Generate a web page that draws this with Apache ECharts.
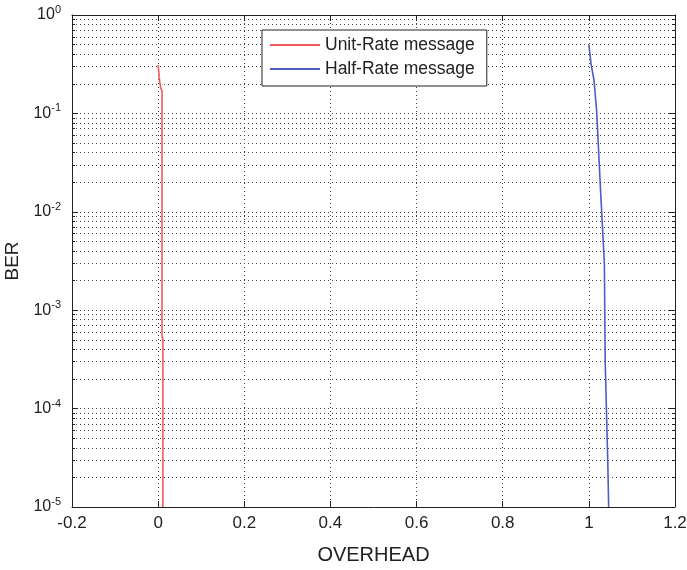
<!DOCTYPE html>
<html><head><meta charset="utf-8">
<script src="https://cdn.jsdelivr.net/npm/echarts@6/dist/echarts.min.js"></script>
<style>html,body{margin:0;padding:0;background:#fff}#c{width:687px;height:570px}</style>
</head><body><div id="c"></div>
<script>
const unitRateX = [0, 0.003, 0.006, 0.009, 0.009, 0.011, 0.011];
const unitRateY = [0.31, 0.22, 0.18, 0.17, 5.4e-4, 5.0e-4, 1e-5];
const halfRateX = [1.0, 1.005, 1.012, 1.018, 1.028, 1.036, 1.038, 1.044, 1.046];
const halfRateY = [0.5, 0.32, 0.216, 0.107, 0.014, 0.003, 2.9e-4, 2.8e-5, 1e-5];
const xTicks = [-0.2, 0, 0.2, 0.4, 0.6, 0.8, 1, 1.2];
const seriesNames = ['Unit-Rate message', 'Half-Rate message'];

const font = 'Liberation Sans, Arial, sans-serif';
const dotted = {show: true, lineStyle: {color: '#444', type: [1, 3], width: 1}};
const chart = echarts.init(document.getElementById('c'));
const pairs = (xs, ys) => xs.map((x, i) => [x, ys[i]]);
const sup = v => {
  const e = Math.round(Math.log10(v));
  return '{b|10}{s|' + e + '}';
};
chart.setOption({
  animation: false,
  grid: {left: 72, right: 12, top: 15, bottom: 63, containLabel: false, outerBoundsMode: 'none'},
  legend: {
    orient: 'vertical', left: 262, top: 30,
    backgroundColor: '#fff', borderColor: '#222', borderWidth: 1, borderRadius: 0,
    padding: [6, 12, 8, 8], itemGap: 6, itemWidth: 50, itemHeight: 2,
    icon: 'rect',
    textStyle: {fontFamily: font, fontSize: 17.5, color: '#222'},
    data: seriesNames
  },
  xAxis: [{
    type: 'value', min: -0.2, max: 1.2, interval: 0.2,
    name: 'OVERHEAD', nameLocation: 'middle', nameGap: 38,
    nameTextStyle: {fontFamily: font, fontSize: 20, color: '#222'},
    axisLine: {lineStyle: {color: '#222'}},
    axisTick: {inside: true, length: 6, lineStyle: {color: '#222'}},
    axisLabel: {fontFamily: font, fontSize: 17, color: '#222', margin: 8,
      formatter: v => xTicks.includes(Math.round(v * 10) / 10) ? String(Math.round(v * 10) / 10) : ''},
    splitLine: dotted
  }, {
    type: 'value', position: 'top', min: -0.2, max: 1.2, interval: 0.2,
    axisLine: {show: true, onZero: false, lineStyle: {color: '#222'}},
    axisTick: {inside: true, length: 6, lineStyle: {color: '#222'}},
    axisLabel: {show: false}, splitLine: {show: false}
  }],
  yAxis: [{
    type: 'log', logBase: 10, min: 1e-5, max: 1,
    name: 'BER', nameLocation: 'middle', nameGap: 44, nameRotate: 90,
    nameTextStyle: {fontFamily: font, fontSize: 19, color: '#222'},
    axisLine: {show: true, onZero: false, lineStyle: {color: '#222'}},
    axisTick: {inside: true, length: 6, lineStyle: {color: '#222'}},
    minorTick: {show: true, splitNumber: 9, length: 3, lineStyle: {color: '#222'}},
    axisLabel: {fontFamily: font, color: '#222', margin: 11, formatter: sup,
      rich: {b: {fontFamily: font, fontSize: 16, color: '#222'},
             s: {fontFamily: font, fontSize: 11, color: '#222', padding: [0, 0, 10, 0]}}},
    splitLine: dotted,
    minorSplitLine: dotted
  }, {
    type: 'log', logBase: 10, min: 1e-5, max: 1, position: 'right',
    axisLine: {show: true, onZero: false, lineStyle: {color: '#222'}},
    axisTick: {inside: true, length: 6, lineStyle: {color: '#222'}},
    minorTick: {show: true, splitNumber: 9, length: 3, lineStyle: {color: '#222'}},
    axisLabel: {show: false}, splitLine: {show: false}
  }],
  series: [{
    name: seriesNames[0], type: 'line', symbol: 'none', data: pairs(unitRateX, unitRateY),
    lineStyle: {color: '#f05a5a', width: 1.6}, itemStyle: {color: '#f05a5a'}
  }, {
    name: seriesNames[1], type: 'line', symbol: 'none', data: pairs(halfRateX, halfRateY),
    lineStyle: {color: '#4f5cc0', width: 1.6}, itemStyle: {color: '#4f5cc0'}
  }]
});
</script></body></html>
